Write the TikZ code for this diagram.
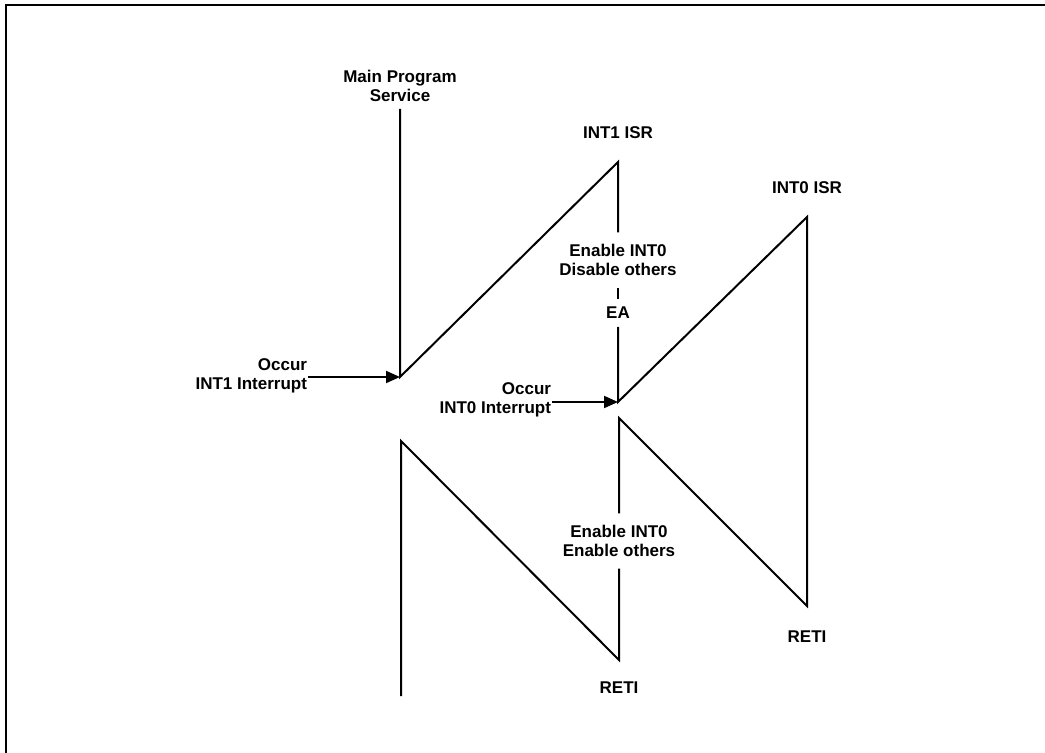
\documentclass[tikz,border=0pt]{standalone}
\usepackage{fontspec}
\setmainfont{Liberation Sans}
\usetikzlibrary{arrows.meta}

\begin{document}
\begin{tikzpicture}[x=0.5pt, y=-0.5pt, line width=1pt,
  lbl/.style={font=\bfseries\fontsize{8.5}{9.5}\selectfont, align=center, inner sep=0pt},
  gap/.style={lbl, inner ysep=5.5pt},
  occur/.style={-{Triangle[length=7pt,width=6pt]}}]

\useasboundingbox (0,0) rectangle (1045,753);

% Frame
\draw[line width=1.2pt] (1045,5) -- (6,5) -- (6,753);

% Main program
\node[lbl] (main) at (400,86) {Main Program\\Service};
\coordinate (mtop) at (400,109);
\coordinate (mint) at (400,377);
\coordinate (mret) at (401,441);
\coordinate (mend) at (401,696);

% INT1 ISR
\node[lbl] (isr1) at (618,133) {INT1 ISR};
\coordinate (isr1top) at (618,162);
\node[gap] (en1) at (618,260) {Enable INT0\\Disable others};
\node[lbl, inner ysep=3.5pt] (ea) at (618,313) {EA};
\coordinate (isr1int) at (618,402);
\coordinate (isr1res) at (619,418);
\node[gap] (en2) at (619,541) {Enable INT0\\Enable others};
\coordinate (isr1end) at (619,660);
\node[lbl] (reti1) at (619,688) {RETI};

% INT0 ISR
\node[lbl] (isr0) at (807,188) {INT0 ISR};
\coordinate (isr0top) at (807,217);
\coordinate (isr0end) at (807,606);
\node[lbl] (reti0) at (807,637) {RETI};

% Program flow
\draw (mtop) -- (mint) -- (isr1top) -- (en1.north);
\draw (en1.south) -- (ea.north);
\draw (ea.south) -- (isr1int) -- (isr0top) -- (isr0end) -- (isr1res) -- (en2.north);
\draw (en2.south) -- (isr1end) -- (mret) -- (mend);

% Interrupts
\node[lbl, align=right, anchor=east] (occ1) at (308,376) {Occur\\INT1 Interrupt};
\node[lbl, align=right, anchor=east] (occ0) at (552,400) {Occur\\INT0 Interrupt};
\draw[occur] (occ1.east |- mint) -- (mint);
\draw[occur] (occ0.east |- isr1int) -- (isr1int);

\end{tikzpicture}
\end{document}
